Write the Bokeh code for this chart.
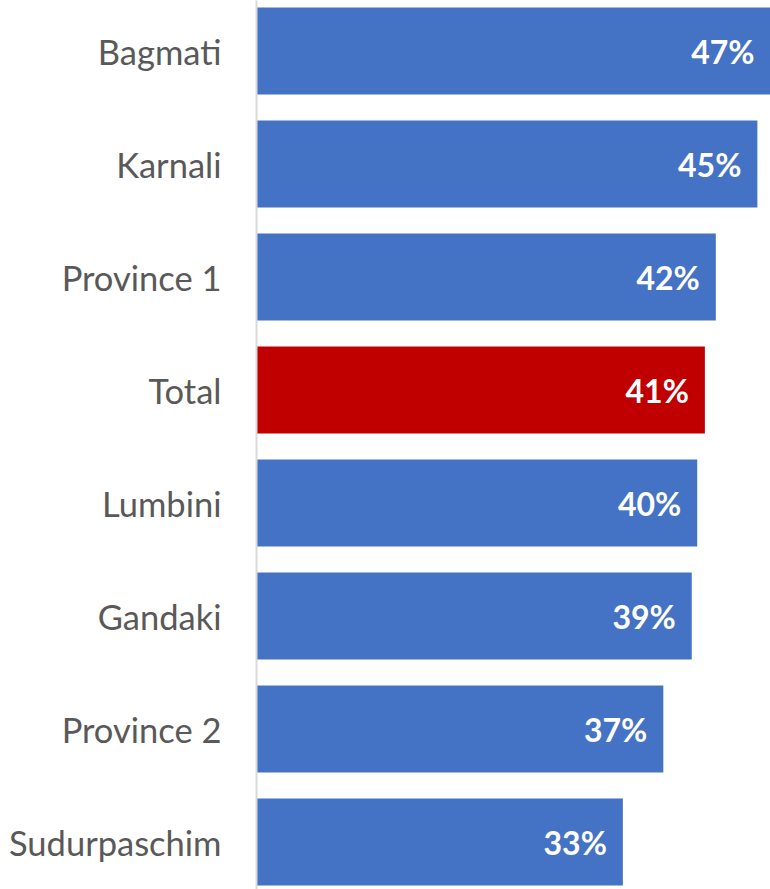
from bokeh.plotting import figure
from bokeh.models import Range1d, ColumnDataSource, FixedTicker
from bokeh.core.properties import value
from bokeh.embed import file_html
from bokeh.resources import INLINE

provinces = ["Bagmati", "Karnali", "Province 1", "Total", "Lumbini", "Gandaki", "Province 2", "Sudurpaschim"]
shares = [47.0, 45.8, 42.0, 41.0, 40.3, 39.8, 37.2, 33.5]
share_labels = ["47%", "45%", "42%", "41%", "40%", "39%", "37%", "33%"]

BLUE = "#4472C4"
RED = "#C00000"

n = len(provinces)
ypos = [n - 1 - i for i in range(n)]
colors = [RED if name == "Total" else BLUE for name in provinces]

src = ColumnDataSource(dict(y=ypos, v=shares, lab=share_labels, c=colors, name=provinces))

p = figure(width=770, height=889, output_backend="svg", toolbar_location=None,
           x_range=Range1d(0, 47.0), y_range=Range1d(-0.42, 7.447),
           min_border_left=256, min_border_right=0, min_border_top=0, min_border_bottom=0)

p.hbar(y="y", left=0, right="v", height=0.77, fill_color="c", line_color=None, source=src)
p.text(x="v", y="y", text="lab", source=src, x_offset=-16, text_align="right", text_baseline="middle",
       text_color="white", text_font=value("Lato"), text_font_style="bold", text_font_size="32px")

p.xaxis.visible = False
p.xgrid.visible = False
p.ygrid.visible = False
p.outline_line_color = None
p.background_fill_color = "white"
p.border_fill_color = "white"

p.yaxis.ticker = FixedTicker(ticks=ypos)
p.yaxis.major_label_overrides = {y: name for y, name in zip(ypos, provinces)}
p.yaxis.major_tick_line_color = None
p.yaxis.minor_tick_line_color = None
p.yaxis.axis_line_color = "#D9D9D9"
p.yaxis.axis_line_width = 2
p.yaxis.major_label_text_font = "Lato"
p.yaxis.major_label_text_font_size = "34.5px"
p.yaxis.major_label_text_color = "#595959"
p.yaxis.major_label_standoff = 29

open("out.html", "w").write(file_html(p, INLINE))
